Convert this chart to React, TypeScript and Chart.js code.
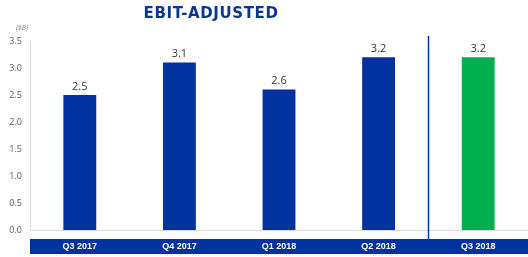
import { useEffect, useRef } from "react";
import { Chart, registerables } from "chart.js";

Chart.register(...registerables);

const categories = ["Q3 2017", "Q4 2017", "Q1 2018", "Q2 2018", "Q3 2018"];
const values = [2.5, 3.1, 2.6, 3.2, 3.2];
const barColors = ["#0033a0", "#0033a0", "#0033a0", "#0033a0", "#00b04f"];
const yMin = 0;
const yMax = 3.5;
const yStep = 0.5;
const title = "EBIT-ADJUSTED";
const unitLabel = "($B)";

const NAVY = "#0033a0";

const decorPlugin = {
  id: "decor",
  beforeDraw(chart: any) {
    const { ctx, chartArea } = chart;
    ctx.save();
    ctx.fillStyle = NAVY;
    ctx.fillRect(chartArea.left, 239, chart.width - chartArea.left, 15);
    ctx.restore();
  },
  afterDatasetsDraw(chart: any) {
    const { ctx } = chart;
    const xs = chart.scales.x;
    const meta = chart.getDatasetMeta(0);
    ctx.save();
    ctx.fillStyle = "#333333";
    ctx.font = "11px 'Open Sans', sans-serif";
    ctx.textAlign = "center";
    ctx.textBaseline = "bottom";
    meta.data.forEach((bar: any, i: number) => {
      ctx.fillText(values[i].toFixed(1), bar.x, bar.y - 3);
    });
    const lx = Math.round((xs.getPixelForValue(3) + xs.getPixelForValue(4)) / 2) + 0.5;
    ctx.strokeStyle = NAVY;
    ctx.lineWidth = 1.5;
    ctx.beginPath();
    ctx.moveTo(lx, 36);
    ctx.lineTo(lx, 239);
    ctx.stroke();
    ctx.fillStyle = "#0a3592";
    ctx.font = "bold 15px 'DejaVu Sans', sans-serif";
    (ctx as any).letterSpacing = "0.6px";
    ctx.textAlign = "center";
    ctx.textBaseline = "middle";
    ctx.fillText(title, 211, 14);
    (ctx as any).letterSpacing = "0px";
    ctx.fillStyle = "#7f7f7f";
    ctx.font = "italic 7px 'Open Sans', sans-serif";
    ctx.textAlign = "center";
    ctx.fillText(unitLabel, 22, 28);
    ctx.restore();
  },
};

export default function App() {
  const ref = useRef<HTMLCanvasElement | null>(null);
  useEffect(() => {
    document.body.style.margin = "0";
    const canvas = ref.current!;
    const chart = new Chart(canvas, {
      type: "bar",
      data: {
        labels: categories,
        datasets: [
          {
            data: values,
            backgroundColor: barColors,
            barPercentage: 0.33,
            categoryPercentage: 1,
          },
        ],
      },
      options: {
        animation: false,
        responsive: false,
        layout: { padding: { top: 41, left: 0, right: 0, bottom: 0 } },
        plugins: {
          legend: { display: false },
          tooltip: { enabled: false },
          title: { display: false },
        },
        scales: {
          x: {
            grid: { display: false, drawTicks: false },
            border: { display: true, color: "#d9d9d9", width: 1 },
            ticks: {
              color: "#ffffff",
              font: { family: "'Liberation Sans', sans-serif", size: 9, weight: "bold" },
              padding: 11,
              maxRotation: 0,
            },
            afterFit(scale: any) {
              scale.height = 27;
            },
          },
          y: {
            min: yMin,
            max: yMax,
            grid: { display: false, drawTicks: false },
            border: { display: true, color: "#d9d9d9", width: 1 },
            ticks: {
              stepSize: yStep,
              color: "#595959",
              font: { family: "'Open Sans', sans-serif", size: 9 },
              padding: 8,
              callback: (v: any) => Number(v).toFixed(1),
            },
            afterFit(scale: any) {
              scale.width = 30;
            },
          },
        },
      },
      plugins: [decorPlugin],
    });
    return () => chart.destroy();
  }, []);
  return <canvas ref={ref} width={528} height={257} style={{ display: "block" }} />;
}
